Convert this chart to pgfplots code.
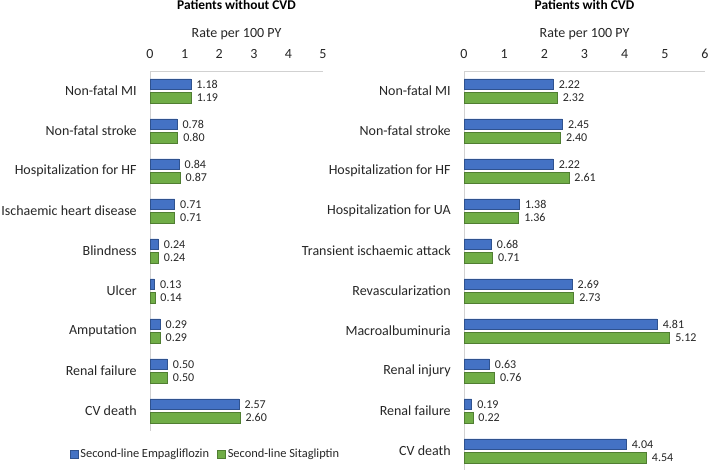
\documentclass[border=0pt]{standalone}
\usepackage{fontspec}
\setmainfont{Carlito}
\usepackage{pgfplots}
\pgfplotsset{compat=1.18}
\definecolor{empablue}{HTML}{4472C4}
\definecolor{empaedge}{HTML}{2F528F}
\definecolor{sitagreen}{HTML}{70AD47}
\definecolor{sitaedge}{HTML}{507E32}
\pgfplotsset{
  cvdpanel/.style={
    scale only axis,
    xbar, bar width=10.5pt,
    axis x line*=top, axis y line*=left,
    axis line style={black!18, line width=0.8pt},
    xmin=0, ymin=-0.5,
    tick style={draw=none},
    ytick={0,...,9},
    font=\fontsize{14}{16}\selectfont,
    ticklabel style={font=\fontsize{14}{16}\selectfont, text=black!85},
    /pgf/number format/assume math mode=true,
    xticklabel style={yshift=8.5pt},
    yticklabel style={xshift=-5.5pt},
    xlabel={Rate per 100 PY},
    xlabel style={at={(0.5,1)}, anchor=center, yshift=37pt,
      font=\fontsize{14}{16}\selectfont, text=black!85},
    title style={at={(0.5,1)}, anchor=center, yshift=60pt,
      font=\bfseries\fontsize{13.4}{16}\selectfont},
    nodes near coords,
    nodes near coords style={font=\fontsize{12}{14}\selectfont, text=black!85,
      /pgf/number format/fixed, /pgf/number format/fixed zerofill,
      /pgf/number format/precision=2},
    every node near coord/.append style={anchor=west, xshift=2pt},
    clip=false,
  },
  empa/.style={fill=empablue, draw=empaedge, line width=0.6pt, bar shift=6.75pt},
  sita/.style={fill=sitagreen, draw=sitaedge, line width=0.6pt, bar shift=-6.75pt},
}
\begin{document}
\begin{tikzpicture}
\useasboundingbox (0,0) rectangle (709pt,-470pt);
% patients without CVD
\begin{axis}[cvdpanel,
  at={(150pt,-71pt)}, anchor=north west,
  width=173pt, height=360pt,
  xmax=5, ymax=8.5, xtick={0,...,5},
  yticklabels={CV death, Renal failure, Amputation, Ulcer, Blindness,
    Ischaemic heart disease, Hospitalization for HF, Non-fatal stroke, Non-fatal MI},
  title={Patients without CVD},
  legend columns=2,
  legend style={at={(0.321,-0.064)}, anchor=center, draw=none, fill=none,
    font=\fontsize{12.4}{14}\selectfont, text=black!85,
    /tikz/every even column/.append style={column sep=6pt}},
  legend image code/.code={\draw[#1, bar shift=0pt] (0pt,-4pt) rectangle (8pt,4pt);},
]
\addplot[empa] coordinates {
  (1.18,8) (0.78,7) (0.84,6) (0.71,5) (0.24,4) (0.13,3) (0.29,2) (0.50,1) (2.57,0)
};
\addplot[sita] coordinates {
  (1.19,8) (0.80,7) (0.87,6) (0.71,5) (0.24,4) (0.14,3) (0.29,2) (0.50,1) (2.60,0)
};
\legend{Second-line Empagliflozin, Second-line Sitagliptin}
\end{axis}
% patients with CVD
\begin{axis}[cvdpanel,
  at={(464pt,-71pt)}, anchor=north west,
  width=241pt, height=400pt,
  xmax=6, ymax=9.5, xtick={0,...,6},
  yticklabels={CV death, Renal failure, Renal injury, Macroalbuminuria,
    Revascularization, Transient ischaemic attack, Hospitalization for UA,
    Hospitalization for HF, Non-fatal stroke, Non-fatal MI},
  title={Patients with CVD},
]
\addplot[empa] coordinates {
  (2.22,9) (2.45,8) (2.22,7) (1.38,6) (0.68,5) (2.69,4) (4.81,3) (0.63,2) (0.19,1) (4.04,0)
};
\addplot[sita] coordinates {
  (2.32,9) (2.40,8) (2.61,7) (1.36,6) (0.71,5) (2.73,4) (5.12,3) (0.76,2) (0.22,1) (4.54,0)
};
\end{axis}
\end{tikzpicture}
\end{document}
